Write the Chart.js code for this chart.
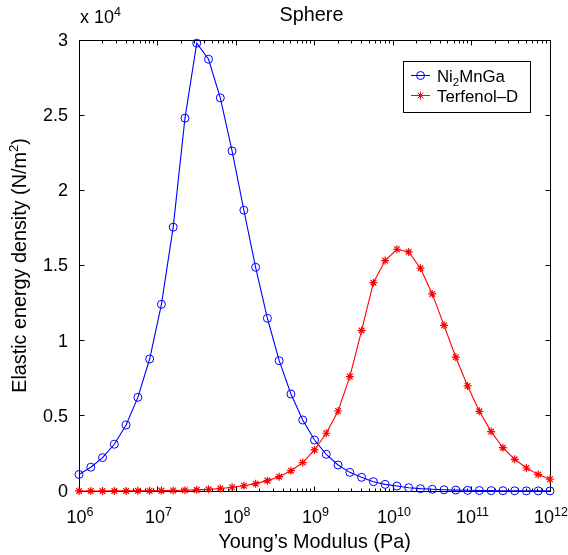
<!DOCTYPE html>
<html>
<head>
<meta charset="utf-8">
<title>Sphere</title>
<script src="https://cdn.jsdelivr.net/npm/chart.js@4.4.1/dist/chart.umd.min.js"></script>
<style>
  html, body { margin: 0; padding: 0; background: #fff; }
  canvas { display: block; }
</style>
</head>
<body>
<canvas id="energyChart" width="568" height="555"></canvas>
<script>
// ================= DATA =================
// log10 of Young's modulus (Pa) for every sample
const logModulus = [
  6.00, 6.15, 6.30, 6.45, 6.60, 6.75, 6.90, 7.05, 7.20, 7.35,
  7.50, 7.65, 7.80, 7.95, 8.10, 8.25, 8.40, 8.55, 8.70, 8.85,
  9.00, 9.15, 9.30, 9.45, 9.60, 9.75, 9.90, 10.05, 10.20, 10.35,
  10.50, 10.65, 10.80, 10.95, 11.10, 11.25, 11.40, 11.55, 11.70, 11.85,
  12.00
];

// elastic energy density (N/m^2)
const ni2mnga = [
  1100, 1580, 2220, 3110, 4390, 6230, 8780, 12420, 17550, 24800,
  29790, 28720, 26150, 22620, 18680, 14880, 11490, 8670, 6450, 4720,
  3390, 2440, 1730, 1240, 910, 620, 440, 330, 220, 155,
  113, 80, 60, 45, 33, 25, 18, 13, 10, 7,
  5
];

const terfenol = [
  2, 3, 4, 6, 8, 12, 17, 25, 36, 52,
  75, 110, 170, 250, 350, 490, 690, 950, 1350, 1890,
  2730, 3840, 5320, 7610, 10670, 13860, 15330, 16080, 15900, 14820,
  13110, 11020, 8900, 6990, 5300, 3950, 2880, 2110, 1530, 1090,
  780
];

const xDecades = [6, 7, 8, 9, 10, 11, 12];
const yTicks = [0, 5000, 10000, 15000, 20000, 25000, 30000];
const yTickLabels = ["0", "0.5", "1", "1.5", "2", "2.5", "3"];

const FONT = '"Liberation Sans", Arial, Helvetica, sans-serif';
const BLUE = "#0000ff";
const RED = "#ff0000";
const MARKER_R = 4;

const toPoints = vals => vals.map((v, i) => ({ x: Math.pow(10, logModulus[i]), y: v }));

// ================= TEXT HELPERS =================
// parts: [{ text, size, dy }] drawn one after another on a shared baseline
function richWidth(ctx, parts) {
  let w = 0;
  parts.forEach(p => {
    ctx.font = p.size + "px " + FONT;
    w += ctx.measureText(p.text).width;
  });
  return w;
}

function drawRich(ctx, parts, x, y, align) {
  const w = richWidth(ctx, parts);
  let cx = align === "center" ? x - w / 2 : align === "right" ? x - w : x;
  ctx.textAlign = "left";
  ctx.textBaseline = "alphabetic";
  parts.forEach(p => {
    ctx.font = p.size + "px " + FONT;
    ctx.fillText(p.text, cx, y + (p.dy || 0));
    cx += ctx.measureText(p.text).width;
  });
}

function drawMarker(ctx, style, x, y, r, color) {
  ctx.strokeStyle = color;
  ctx.lineWidth = 1;
  ctx.beginPath();
  if (style === "circle") {
    ctx.arc(x, y, r, 0, Math.PI * 2);
  } else {
    const d = r * Math.SQRT1_2;
    ctx.moveTo(x - r, y); ctx.lineTo(x + r, y);
    ctx.moveTo(x, y - r); ctx.lineTo(x, y + r);
    ctx.moveTo(x - d, y - d); ctx.lineTo(x + d, y + d);
    ctx.moveTo(x - d, y + d); ctx.lineTo(x + d, y - d);
  }
  ctx.stroke();
}

// ================= AXES BOX, TICKS, LABELS =================
const matlabAxes = {
  id: "matlabAxes",
  beforeDatasetsDraw(chart) {
    const { ctx, chartArea: a, scales: { x, y } } = chart;
    const L = Math.floor(a.left) + 0.5;
    const R = Math.floor(a.right) + 0.5;
    const T = Math.floor(a.top) + 0.5;
    const B = Math.floor(a.bottom) + 0.5;

    ctx.save();
    ctx.strokeStyle = "#000";
    ctx.lineWidth = 1;
    ctx.strokeRect(L, T, R - L, B - T);

    ctx.beginPath();
    // decade ticks and 2..9 minor ticks along top and bottom
    xDecades.forEach((d, i) => {
      const px = Math.floor(x.getPixelForValue(Math.pow(10, d))) + 0.5;
      ctx.moveTo(px, B); ctx.lineTo(px, B - 5);
      ctx.moveTo(px, T); ctx.lineTo(px, T + 5);
      if (i === xDecades.length - 1) return;
      for (let k = 2; k <= 9; k++) {
        const mx = Math.floor(x.getPixelForValue(k * Math.pow(10, d))) + 0.5;
        ctx.moveTo(mx, B); ctx.lineTo(mx, B - 3);
        ctx.moveTo(mx, T); ctx.lineTo(mx, T + 3);
      }
    });
    yTicks.forEach(v => {
      const py = Math.floor(y.getPixelForValue(v)) + 0.5;
      ctx.moveTo(L, py); ctx.lineTo(L + 5, py);
      ctx.moveTo(R, py); ctx.lineTo(R - 5, py);
    });
    ctx.stroke();
    ctx.restore();
  },
  afterDraw(chart) {
    const { ctx, chartArea: a, scales: { x, y } } = chart;
    ctx.save();
    ctx.fillStyle = "#000";

    // y tick labels
    ctx.font = "18px " + FONT;
    ctx.textAlign = "right";
    ctx.textBaseline = "middle";
    yTicks.forEach((v, i) => {
      ctx.fillText(yTickLabels[i], a.left - 11, y.getPixelForValue(v) + 1);
    });

    // x tick labels 10^n
    xDecades.forEach(d => {
      drawRich(ctx, [
        { text: "10", size: 18 },
        { text: String(d), size: 12.5, dy: -7 }
      ], x.getPixelForValue(Math.pow(10, d)) + 1, 523, "center");
    });

    // exponent above the y axis
    drawRich(ctx, [
      { text: "x 10", size: 18 },
      { text: "4", size: 12.5, dy: -7 }
    ], 80, 23, "left");

    // title and x axis label
    const midX = (a.left + a.right) / 2;
    drawRich(ctx, [{ text: "Sphere", size: 19.8 }], midX - 3, 21, "center");
    drawRich(ctx, [{ text: "Young\u2019s Modulus (Pa)", size: 19.8 }], midX, 548, "center");

    // y axis label, rotated
    ctx.save();
    ctx.translate(26, (a.top + a.bottom) / 2);
    ctx.rotate(-Math.PI / 2);
    drawRich(ctx, [
      { text: "Elastic energy density (N/m", size: 19.8 },
      { text: "2", size: 13, dy: -8 },
      { text: ")", size: 19.8 }
    ], 0, 0, "center");
    ctx.restore();

    // legend
    const bx = 403.5, by = 61.5, bw = 127, bh = 51;
    ctx.fillStyle = "#fff";
    ctx.fillRect(bx, by, bw, bh);
    ctx.strokeStyle = "#000";
    ctx.lineWidth = 1;
    ctx.strokeRect(bx, by, bw, bh);

    const rows = [
      { color: BLUE, style: "circle", y: 75.5, parts: [
        { text: "Ni", size: 16.8 }, { text: "2", size: 11.5, dy: 4 }, { text: "MnGa", size: 16.8 }
      ] },
      { color: RED, style: "star", y: 95.5, parts: [
        { text: "Terfenol\u2013D", size: 16.8 }
      ] }
    ];
    rows.forEach(r => {
      ctx.strokeStyle = r.color;
      ctx.lineWidth = 1;
      ctx.beginPath();
      ctx.moveTo(411, r.y); ctx.lineTo(430, r.y);
      ctx.stroke();
      drawMarker(ctx, r.style, 420.5, r.y, MARKER_R, r.color);
      ctx.fillStyle = "#000";
      drawRich(ctx, r.parts, 437, r.y + 6, "left");
    });

    ctx.restore();
  }
};

// ================= CHART =================
document.addEventListener("DOMContentLoaded", () => {
  const ctx = document.getElementById("energyChart").getContext("2d");

  new Chart(ctx, {
    type: "line",
    data: {
      datasets: [
        {
          label: "Ni2MnGa",
          data: toPoints(ni2mnga),
          borderColor: BLUE,
          borderWidth: 1.1,
          pointStyle: "circle",
          pointRadius: MARKER_R,
          pointBorderColor: BLUE,
          pointBackgroundColor: "rgba(0,0,0,0)",
          pointBorderWidth: 1,
          tension: 0,
          clip: false,
          order: 1
        },
        {
          label: "Terfenol-D",
          data: toPoints(terfenol),
          borderColor: RED,
          borderWidth: 1.1,
          pointStyle: "star",
          pointRadius: MARKER_R,
          pointBorderColor: RED,
          pointBackgroundColor: RED,
          pointBorderWidth: 1.2,
          tension: 0,
          clip: false,
          order: 0
        }
      ]
    },
    options: {
      responsive: false,
      animation: false,
      layout: { padding: { top: 40, right: 18, left: 0, bottom: 0 } },
      plugins: {
        legend: { display: false },
        tooltip: { enabled: false }
      },
      scales: {
        x: {
          type: "logarithmic",
          min: 1e6,
          max: 1e12,
          grid: { display: false },
          border: { display: false },
          ticks: { display: false },
          afterFit: s => { s.height = 64; }
        },
        y: {
          min: 0,
          max: 30000,
          grid: { display: false },
          border: { display: false },
          ticks: { display: false },
          afterFit: s => { s.width = 79; }
        }
      }
    },
    plugins: [matlabAxes]
  });
});
</script>
</body>
</html>
